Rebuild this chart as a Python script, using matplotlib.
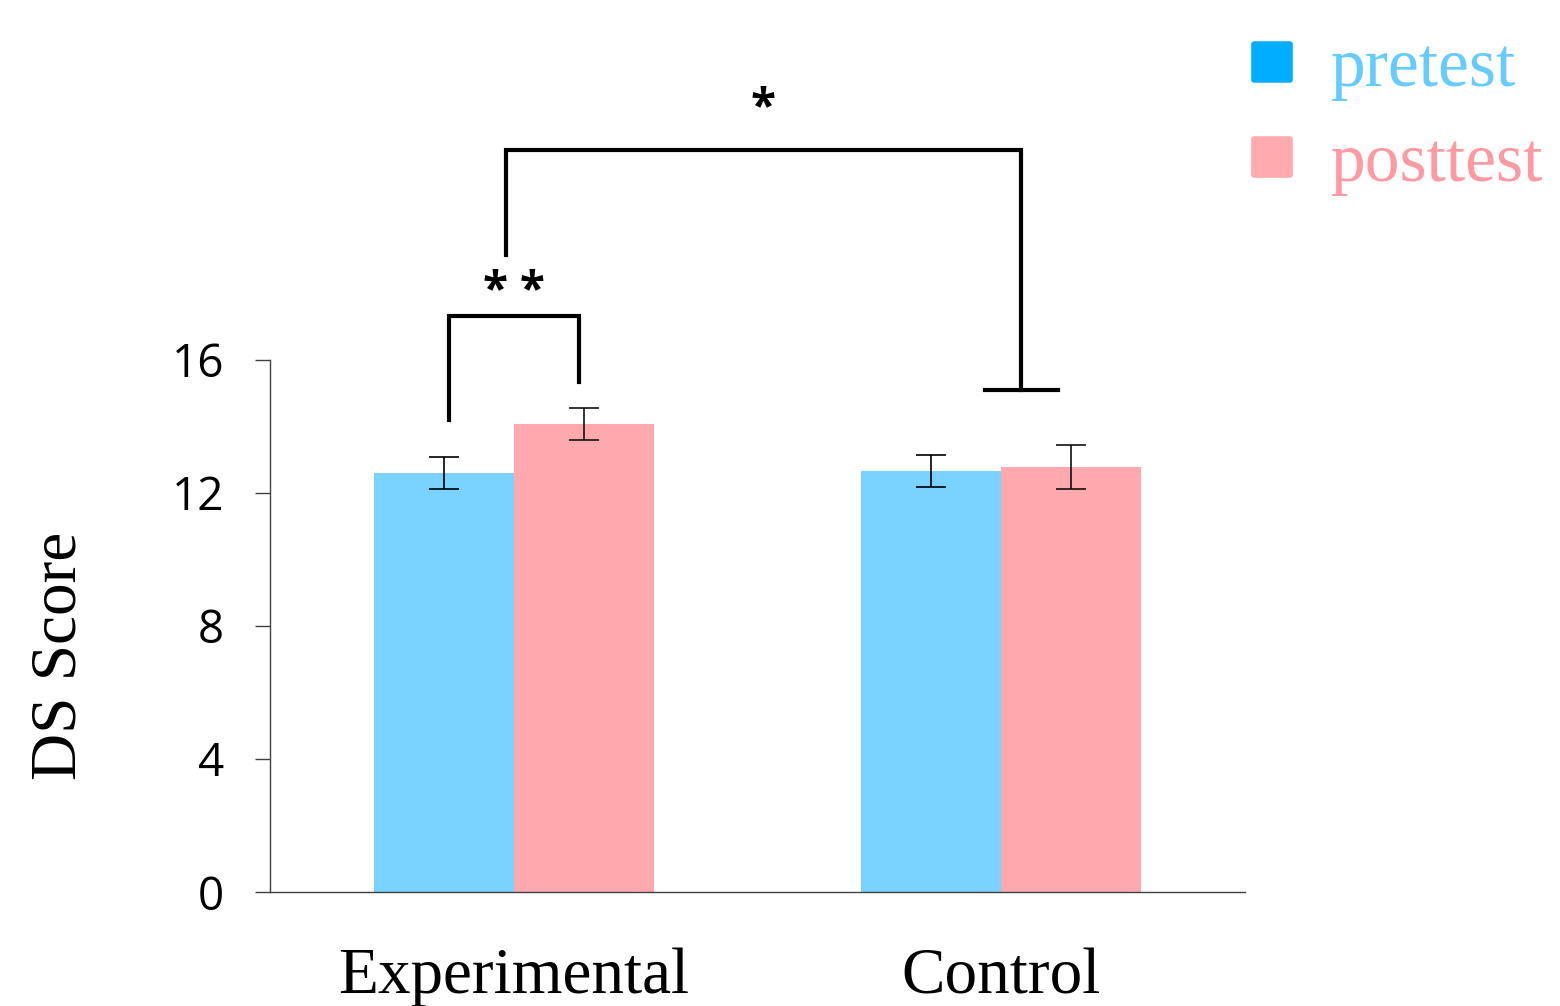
import matplotlib
matplotlib.use('Agg')
import matplotlib.pyplot as plt
from matplotlib.lines import Line2D
from matplotlib.markers import MarkerStyle
import numpy as np

# 数据
groups = ['Experimental', 'Control']
series = ['pretest', 'posttest']
pretest_mean = [12.6, 12.66]
posttest_mean = [14.07, 12.78]
pretest_err = [0.48, 0.47]
posttest_err = [0.48, 0.65]
y_ticks = [0, 4, 8, 12, 16]

# 显著性标注（数据坐标）
inner_sig = '* *'
inner_heights = [14.2, 17.32, 15.34]   # 左腿底、顶、右腿底
outer_sig = '*'
outer_heights = [19.16, 22.32, 15.1]

bar_blue = '#79d2ff'
bar_pink = '#ffa8ad'
mark_blue = '#00aeff'
mark_pink = '#ffaaae'
text_blue = '#66ccff'
text_pink = '#ff99a2'
spine_color = '#404040'

serif = ['Liberation Serif', 'DejaVu Serif']
sans = ['Open Sans', 'DejaVu Sans']

fig = plt.figure(figsize=(15.6, 10.06), dpi=100)
ax = fig.add_axes([0.1731, 0.1133, 0.625, 0.529])

x = np.arange(len(groups))
w = 0.287
x_pre = x - w / 2
x_post = x + w / 2

ax.bar(x_pre, pretest_mean, width=w, color=bar_blue, linewidth=0)
ax.bar(x_post, posttest_mean, width=w, color=bar_pink, linewidth=0)
ax.errorbar(x_pre, pretest_mean, yerr=pretest_err, fmt='none', ecolor='#000000',
            elinewidth=1.2, capsize=11, capthick=1.2)
ax.errorbar(x_post, posttest_mean, yerr=posttest_err, fmt='none', ecolor='#111111',
            elinewidth=1.2, capsize=11, capthick=1.2)

ax.set_xlim(-0.5, 1.5)
ax.set_ylim(0, 16)
ax.set_yticks(y_ticks)
ax.set_yticklabels([str(t) for t in y_ticks], fontfamily=sans, fontsize=33)
ax.set_xticks(x)
ax.set_xticklabels(groups, fontfamily=serif, fontsize=47)
ax.tick_params(axis='y', length=11, width=1, color=spine_color, pad=22)
ax.tick_params(axis='x', length=0, pad=40)
ax.set_ylabel('DS Score', fontfamily=serif, fontsize=47)
ax.yaxis.set_label_coords(-0.185, 0.4436)

for side in ['top', 'right']:
    ax.spines[side].set_visible(False)
for side in ['left', 'bottom']:
    ax.spines[side].set_color(spine_color)
    ax.spines[side].set_linewidth(1)

# 组内比较括号
lw = 3
a, b = x_pre[0] + 0.01, x_post[0] - 0.01
ax.plot([a, a, b, b], inner_heights[:1] + [inner_heights[1]] * 2 + inner_heights[2:],
        color='black', lw=lw, clip_on=False, solid_joinstyle='miter')
ax.text((a + b) / 2, inner_heights[1] + 0.33, inner_sig, ha='center', va='baseline',
        fontfamily=sans, fontsize=33, fontweight='bold')

# 组间比较括号
c, d = x[0] - 0.016, x[1] + 0.04
ax.plot([c, c, d, d], outer_heights[:1] + [outer_heights[1]] * 2 + outer_heights[2:],
        color='black', lw=lw, clip_on=False, solid_joinstyle='miter')
ax.plot([d - 0.074, d + 0.076], [outer_heights[2]] * 2, color='black', lw=lw, clip_on=False)
ax.text((c + d) / 2, outer_heights[1] + 0.85, outer_sig, ha='center', va='baseline',
        fontfamily=sans, fontsize=33, fontweight='bold')

rounded_square = MarkerStyle('s', joinstyle='round')
handles = [
    Line2D([], [], marker=rounded_square, linestyle='none', markersize=26,
           color=mark_blue, markeredgewidth=4, markeredgecolor=mark_blue),
    Line2D([], [], marker=rounded_square, linestyle='none', markersize=26,
           color=mark_pink, markeredgewidth=4, markeredgecolor=mark_pink),
]
leg = fig.legend(handles, series, loc='upper left', bbox_to_anchor=(0.775, 0.997),
                 frameon=False, prop={'family': serif, 'size': 50},
                 labelcolor=[text_blue, text_pink], handlelength=0.8,
                 handletextpad=0.45, labelspacing=0.45, borderpad=0)

fig.savefig('out.png', dpi=100)
